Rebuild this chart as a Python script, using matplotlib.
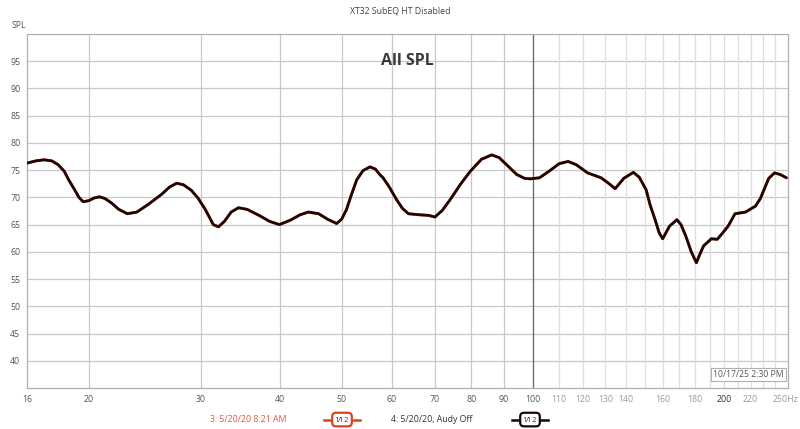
import matplotlib
matplotlib.use("Agg")
import matplotlib.pyplot as plt
from matplotlib.lines import Line2D
from matplotlib.ticker import FixedLocator, NullFormatter

# frequency response (Hz, dB SPL)
freq = [16.0, 16.5, 17.0, 17.5, 17.9, 18.3, 18.6, 19.0, 19.3, 19.6, 20.0, 20.4, 20.8,
        21.2, 21.7, 22.3, 23.0, 23.8, 24.8, 26.0, 26.8, 27.5, 28.2, 29.0, 29.7, 30.5,
        31.4, 32.0, 32.7, 33.5, 34.4, 35.5, 37.2, 38.5, 39.9, 41.5, 43.0, 44.3, 46.0,
        47.5, 49.1, 50.0, 50.9, 51.8, 52.8, 54.0, 55.4, 56.5, 57.4, 58.1, 59.5, 61.0,
        62.3, 63.7, 66.4, 68.5, 70.1, 72.0, 74.1, 77.0, 79.7, 83.0, 86.1, 88.5, 90.9,
        94.3, 97.0, 99.0, 102.4, 106.0, 110.0, 113.6, 117.0, 121.9, 128.0, 131.5, 134.7,
        139.0, 143.9, 147.0, 150.7, 153.0, 155.7, 158.0, 160.0, 164.0, 168.5, 171.0,
        174.0, 177.5, 180.8, 183.0, 185.6, 190.9, 195.0, 198.0, 202.8, 208.0, 216.0,
        224.0, 228.0, 231.0, 235.0, 240.0, 245.0, 250.6]
spl = [76.3, 76.7, 76.9, 76.7, 76.0, 74.8, 73.2, 71.4, 70.0, 69.2, 69.4, 69.9, 70.1,
       69.8, 69.0, 67.8, 67.0, 67.3, 68.7, 70.5, 71.9, 72.6, 72.3, 71.3, 69.9, 67.8,
       65.0, 64.6, 65.6, 67.3, 68.1, 67.8, 66.6, 65.6, 65.0, 65.8, 66.8, 67.3, 67.0,
       66.0, 65.2, 66.0, 67.8, 70.5, 73.2, 74.9, 75.6, 75.2, 74.2, 73.6, 71.8, 69.6,
       68.0, 67.0, 66.8, 66.7, 66.4, 67.6, 69.6, 72.5, 74.8, 77.0, 77.8, 77.3, 76.0,
       74.2, 73.5, 73.4, 73.6, 74.8, 76.2, 76.6, 76.0, 74.5, 73.6, 72.6, 71.6,
       73.5, 74.6, 73.7, 71.4, 68.5, 65.9, 63.5, 62.4, 64.7, 65.9, 65.0,
       62.9, 60.0, 58.0, 59.5, 61.1, 62.4, 62.3, 63.2, 64.7, 67.0, 67.3,
       68.4, 69.8, 71.4, 73.5, 74.5, 74.2, 73.6]

major_x = [20, 30, 40, 50, 60, 70, 80, 90]
minor_x = [110, 120, 130, 140, 150, 160, 170, 180, 190, 200, 210, 220, 230, 240]
x_labels = ["16", "20", "30", "40", "50", "60", "70", "80", "90", "100",
            "110", "120", "130", "140", "160", "180", "200", "220", "250Hz"]
x_label_pos = [16, 20, 30, 40, 50, 60, 70, 80, 90, 100,
               110, 120, 130, 140, 160, 180, 200, 220, 250]
y_ticks = [40, 45, 50, 55, 60, 65, 70, 75, 80, 85, 90, 95]

plt.rcParams['font.family'] = ['Open Sans', 'DejaVu Sans']

fig = plt.figure(figsize=(8, 4.29), dpi=100)
ax = fig.add_axes([0.034, 0.0956, 0.951, 0.8251])
ax.set_xscale('log')
ax.set_xlim(16, 252)
ax.set_ylim(35, 100)

# grid
for v in y_ticks:
    ax.axhline(v, color='#c8c8c8', lw=0.9, zorder=0)
for v in major_x:
    ax.axvline(v, color='#c8c8c8', lw=0.9, zorder=0)
for v in minor_x:
    ax.axvline(v, color='#dedede', lw=0.9, zorder=0)
ax.axvline(100, color='#6e6e6e', lw=1.0, zorder=0)

for s in ax.spines.values():
    s.set_color('#b0b0b0')
    s.set_linewidth(0.9)

ax.xaxis.set_major_locator(FixedLocator(x_label_pos))
ax.xaxis.set_minor_locator(FixedLocator([]))
ax.xaxis.set_minor_formatter(NullFormatter())
ax.set_xticklabels(x_labels)
ax.set_yticks(y_ticks)
ax.tick_params(axis='both', length=0, labelsize=6.3, colors='#555555', pad=5)
for lbl, f in zip(ax.get_xticklabels(), x_label_pos):
    if f > 100 and f != 200:
        lbl.set_color('#9a9a9a')
    elif f == 200:
        lbl.set_color('#333333')

# curves: series 3 (orange) hidden below series 4 (black)
ax.plot(freq, spl, color='#d9461e', lw=2.1, solid_joinstyle='round',
        solid_capstyle='round', zorder=3)
ax.plot(freq, spl, color='#1a0808', lw=1.9, solid_joinstyle='round',
        solid_capstyle='round', zorder=4)

ax.text(0.5, 0.925, "All SPL", transform=ax.transAxes, ha='center', va='center',
        fontsize=11.5, fontweight='bold', color='#3a3a3a')
ax.text(0.994, 0.025, "10/17/25 2:30 PM", transform=ax.transAxes, ha='right', va='bottom',
        fontsize=6.2, color='#555555',
        bbox=dict(boxstyle='square,pad=0.25', fc='white', ec='#b0b0b0', lw=0.8))

fig.text(0.5, 0.974, "XT32 SubEQ HT Disabled", ha='center', va='center',
         fontsize=6.3, color='#444444')
fig.text(0.023, 0.94, "SPL", ha='center', va='center', fontsize=6.2, color='#555555')

# legend row
fig.text(0.31, 0.022, "3: 5/20/20 8:21 AM", ha='center', va='center',
         fontsize=6.3, color='#e0563a')
fig.text(0.54, 0.022, "4: 5/20/20, Audy Off", ha='center', va='center',
         fontsize=6.3, color='#333333')
for cx, col in [(0.4275, '#d9461e'), (0.6625, '#1a0808')]:
    fig.add_artist(Line2D([cx - 0.022, cx + 0.022], [0.022, 0.022], color=col,
                          lw=1.8, transform=fig.transFigure))
    fig.text(cx, 0.022, r"$\mathregular{1\!/\!}$" + "12", ha='center', va='center',
             fontsize=5.5, color='#333333',
             bbox=dict(boxstyle='round,pad=0.3,rounding_size=0.5', fc='white',
                       ec=col, lw=1.6))

fig.savefig("out.png", dpi=100)
